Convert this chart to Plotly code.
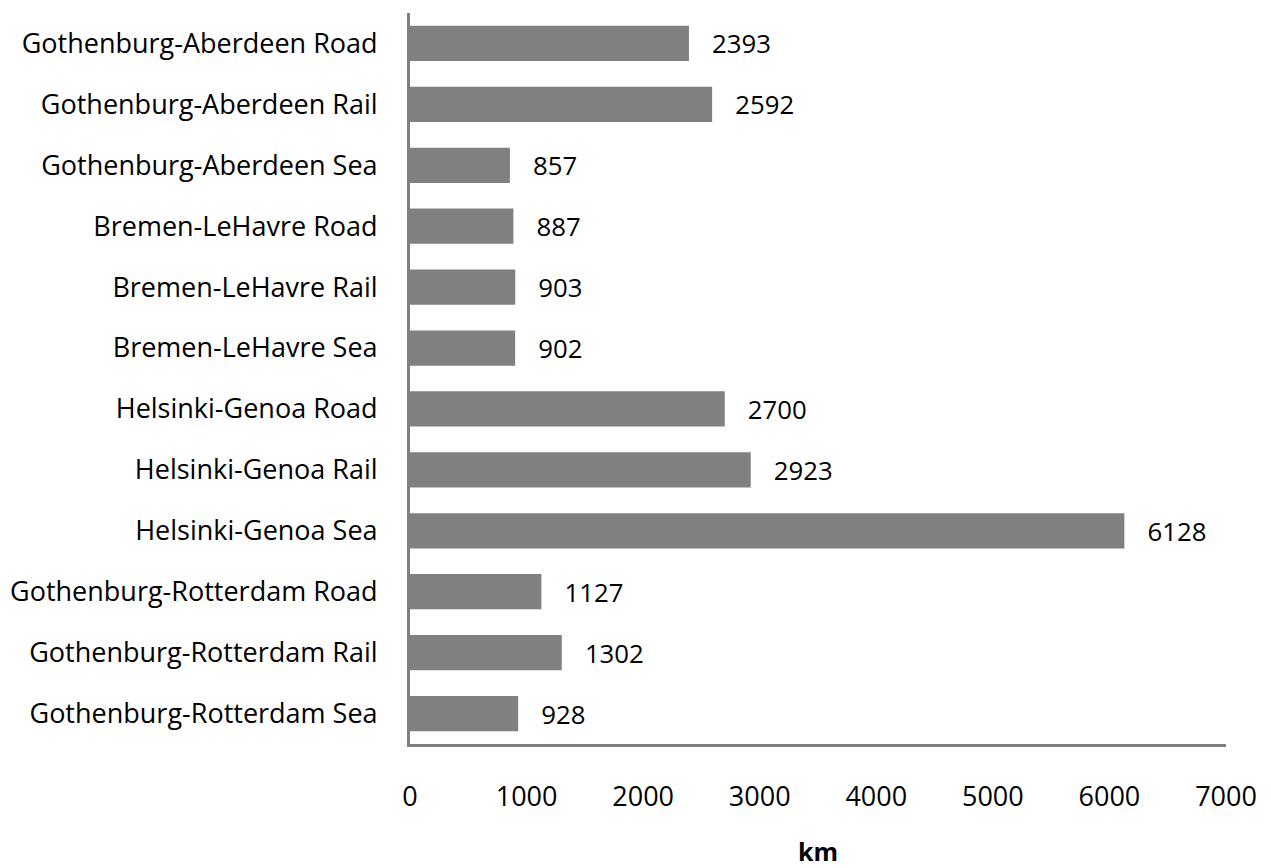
import plotly.graph_objects as go

categories = [
    "Gothenburg-Aberdeen Road", "Gothenburg-Aberdeen Rail", "Gothenburg-Aberdeen Sea",
    "Bremen-LeHavre Road", "Bremen-LeHavre Rail", "Bremen-LeHavre Sea",
    "Helsinki-Genoa Road", "Helsinki-Genoa Rail", "Helsinki-Genoa Sea",
    "Gothenburg-Rotterdam Road", "Gothenburg-Rotterdam Rail", "Gothenburg-Rotterdam Sea",
]
values_km = [2393, 2592, 857, 887, 903, 902, 2700, 2923, 6128, 1127, 1302, 928]
x_ticks = [0, 1000, 2000, 3000, 4000, 5000, 6000, 7000]

FONT = "Open Sans, Carlito, Calibri, sans-serif"
FS = 27

fig = go.Figure(go.Bar(
    y=categories,
    x=values_km,
    orientation="h",
    marker=dict(color="#808080", line=dict(width=0)),
    text=[f"   {v}" for v in values_km],
    textposition="outside",
    textfont=dict(size=FS, color="#000000", family=FONT),
    cliponaxis=False,
))

fig.update_layout(
    width=1263, height=860,
    margin=dict(l=402, r=45, t=5, b=124, autoexpand=False),
    paper_bgcolor="white", plot_bgcolor="white",
    bargap=0.42,
    showlegend=False,
    font=dict(family=FONT, size=FS, color="#000000"),
)
fig.update_xaxes(
    range=[0, 7000], tickvals=x_ticks, ticktext=[str(t) for t in x_ticks],
    showgrid=False, zeroline=False, automargin=False,
    showline=True, linecolor="#808080", linewidth=3,
    ticks="outside", ticklen=27, tickcolor="rgba(0,0,0,0)",
    tickfont=dict(size=FS, family=FONT),
    title=dict(text="<b>km</b>", font=dict(size=25, family=FONT), standoff=34),
)
fig.update_yaxes(
    autorange="reversed", automargin=False,
    showgrid=False, zeroline=False,
    showline=True, linecolor="#808080", linewidth=3,
    ticks="outside", ticklen=24, tickcolor="rgba(0,0,0,0)",
    tickfont=dict(size=FS, family=FONT),
)

fig.write_html("out.html")
